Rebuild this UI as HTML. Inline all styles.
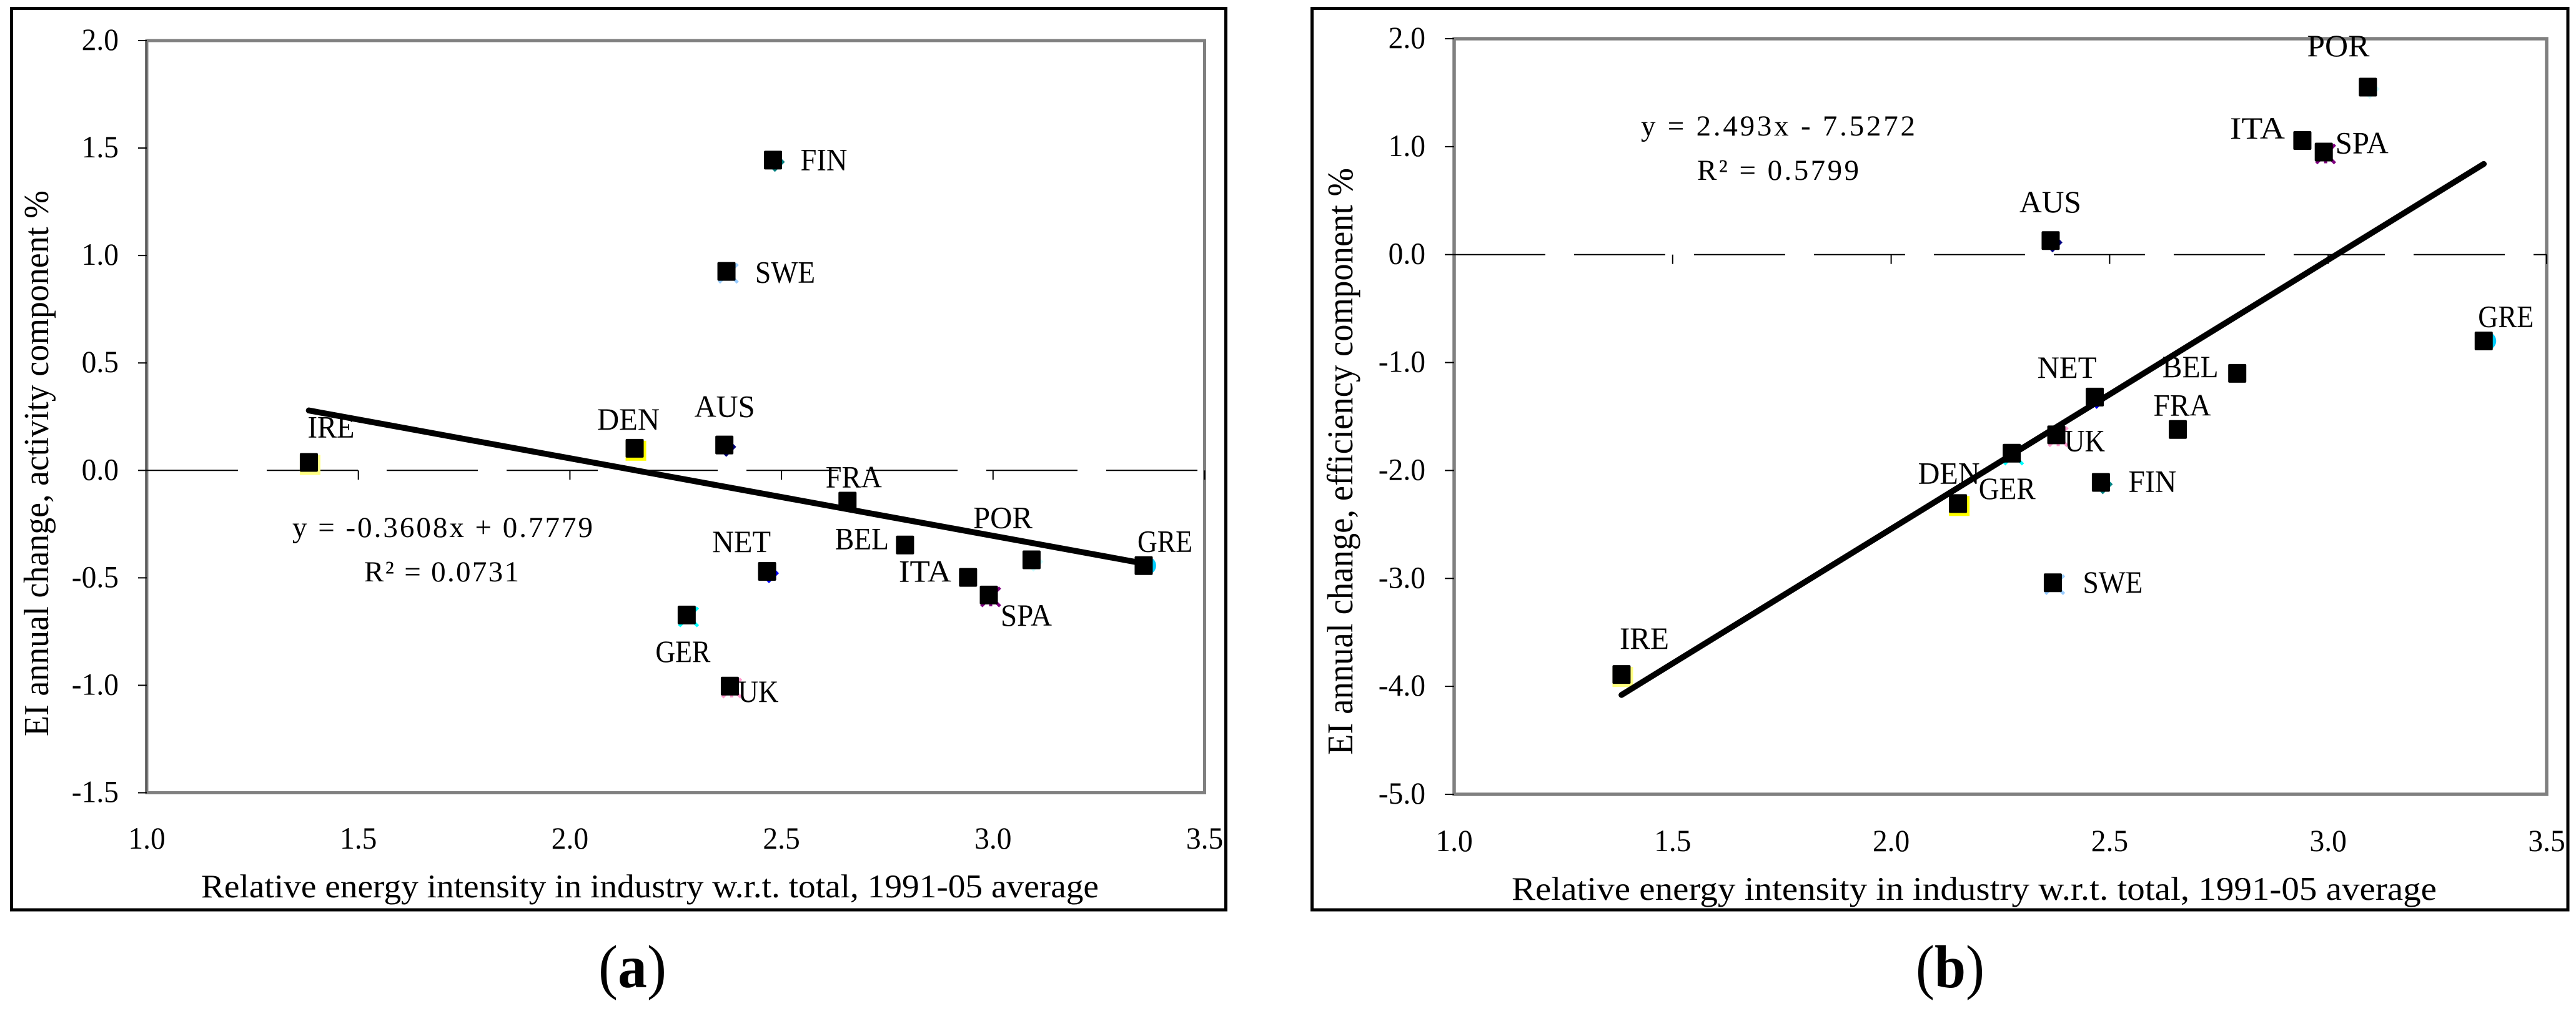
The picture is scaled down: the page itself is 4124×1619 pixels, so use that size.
<!DOCTYPE html>
<html lang="en">
<head>
<meta charset="utf-8">
<title>EI annual change vs relative energy intensity</title>
<style>
html,body{margin:0;padding:0;background:#fff;}
svg{display:block;}
text{font-family:"Liberation Serif",serif;fill:#000;}
</style>
</head>
<body>
<svg id="figure" xmlns="http://www.w3.org/2000/svg" width="4124" height="1619" viewBox="0 0 4124 1619">
  <rect x="0" y="0" width="4124" height="1619" fill="#fff"/>

  <g id="panel-a">
    <rect x="18.5" y="13.5" width="1944" height="1443.5" fill="none" stroke="#000" stroke-width="5"/>
    <rect x="235" y="65" width="1693.5" height="1204.5" fill="#fff" stroke="#808080" stroke-width="5"/>
    <line x1="233.5" y1="65" x2="233.5" y2="1269" stroke="#333" stroke-width="2"/>
    <text transform="translate(77,1179) rotate(-90)" font-size="56" textLength="874" lengthAdjust="spacingAndGlyphs">EI annual change, activity component %</text>
    <text x="322" y="1437" font-size="53" textLength="1437" lengthAdjust="spacingAndGlyphs">Relative energy intensity in industry w.r.t. total, 1991-05 average</text>
    <text x="468" y="860" font-size="47" textLength="481" lengthAdjust="spacing">y = -0.3608x + 0.7779</text>
    <text x="583" y="931" font-size="47" textLength="248" lengthAdjust="spacing">R² = 0.0731</text>
  </g>

  <g id="panel-b">
    <rect x="2100.5" y="13.5" width="2010.5" height="1443.5" fill="none" stroke="#000" stroke-width="5"/>
    <rect x="2328" y="62" width="1749" height="1210" fill="#fff" stroke="#808080" stroke-width="5.5"/>
    <text transform="translate(2165,1209) rotate(-90)" font-size="58" textLength="940" lengthAdjust="spacingAndGlyphs">EI annual change, efficiency component %</text>
    <text x="2420" y="1441" font-size="53" textLength="1481" lengthAdjust="spacingAndGlyphs">Relative energy intensity in industry w.r.t. total, 1991-05 average</text>
    <text x="2627" y="217" font-size="47" textLength="439" lengthAdjust="spacing">y = 2.493x - 7.5272</text>
    <text x="2717" y="288" font-size="47" textLength="259" lengthAdjust="spacing">R² = 0.5799</text>
  </g>

  <text x="958" y="1581" font-size="98" textLength="109" lengthAdjust="spacingAndGlyphs">(<tspan font-weight="bold">a</tspan>)</text>
  <text x="3067" y="1581" font-size="98" textLength="110" lengthAdjust="spacingAndGlyphs">(<tspan font-weight="bold">b</tspan>)</text>
</svg>

<script>
// ---- chart data ----
const countries = ["IRE","DEN","GER","AUS","SWE","UK","NET","FIN","FRA","BEL","ITA","SPA","POR","GRE"];
const relativeIntensity = [1.383,2.153,2.276,2.365,2.37,2.378,2.466,2.48,2.656,2.792,2.941,2.99,3.091,3.356];
const activityChange = [0.037,0.103,-0.673,0.118,0.926,-1.004,-0.47,1.444,-0.143,-0.347,-0.498,-0.58,-0.416,-0.443];
const efficiencyChange = [-3.89,-2.306,-1.84,0.13,-3.04,-1.67,-1.32,-2.11,-1.62,-1.10,1.057,0.95,1.552,-0.80];
const trendCoefficientsA = [-0.3608,0.7779];
const trendCoefficientsB = [2.493,-7.5272];
const xTickLabels = ["1.0","1.5","2.0","2.5","3.0","3.5"];
const yTickLabelsA = ["2.0","1.5","1.0","0.5","0.0","-0.5","-1.0","-1.5"];
const yTickLabelsB = ["2.0","1.0","0.0","-1.0","-2.0","-3.0","-4.0","-5.0"];

// ---- marker styling and label layout (not data) ----
const fringeStyles = {
  IRE:["square","#ffff80"],DEN:["square","#ffff00"],GER:["cross","#00ffff"],AUS:["diamond","#000080"],
  SWE:["cross","#99ccff"],UK:["star","#ff99cc"],NET:["diamond","#0000ff"],FIN:["diamond","#008080"],
  SPA:["star","#800080"],POR:["diamond","#ccffff"],GRE:["bump","#00ccff"]
};
const labelLayoutA = {
  IRE:[-2,-40,75],DEN:[-60,-30,100],GER:[-50,75,88],AUS:[-48,-45,97],SWE:[46,18,96],UK:[13,25,65],NET:[-88,-31,94],
  FIN:[44,16,75],FRA:[-35,-22,90],BEL:[-112,7,86],ITA:[-111,7,84],SPA:[19,49,82],POR:[-93.5,-51,95],GRE:[-10,-22,88]
};
const labelLayoutB = {
  IRE:[-3,-41,79],DEN:[-64,-32,99],GER:[-53,73,91],AUS:[-50,-45,99],SWE:[48,16,96],UK:[13,26,65],NET:[-92,-31,95],
  FIN:[44,15,77],FRA:[-39,-22,92],BEL:[-120,6,90],ITA:[-116,-3,88],SPA:[18.5,2,85],POR:[-97.5,-49.5,100],GRE:[-9,-22.5,89]
};

const SVG_NS = "http://www.w3.org/2000/svg";
function make(tag, attrs, parent){
  const n = document.createElementNS(SVG_NS, tag);
  for (const k in attrs) n.setAttribute(k, attrs[k]);
  parent.appendChild(n);
  return n;
}
function linear(d0, d1, r0, r1){
  return function(v){ return r0 + (v - d0) / (d1 - d0) * (r1 - r0); };
}
function squeezeTickText(t){
  t.setAttribute("lengthAdjust", "spacingAndGlyphs");
  t.setAttribute("textLength", t.getComputedTextLength() * 0.95);
}

function drawFringe(group, kind, color, cx, cy){
  const fx = cx + 3, fy = cy + 3;
  if (kind === "square") {
    make("rect",{x:cx-14.5,y:cy-12,width:33,height:32,fill:color},group);
  } else if (kind === "diamond") {
    make("polygon",{points:[fx,fy-16,fx+16,fy,fx,fy+16,fx-16,fy].join(" "),fill:color},group);
  } else if (kind === "bump") {
    make("circle",{cx:cx+5.5,cy:cy,r:14.5,fill:color},group);
  } else {
    const s = 15;
    make("line",{x1:fx-s,y1:fy-s,x2:fx+s,y2:fy+s,stroke:color,"stroke-width":5},group);
    make("line",{x1:fx-s,y1:fy+s,x2:fx+s,y2:fy-s,stroke:color,"stroke-width":5},group);
    if (kind === "star") {
      make("line",{x1:fx,y1:fy-s,x2:fx,y2:fy+s,stroke:color,"stroke-width":5},group);
    }
  }
}

function drawPanel(cfg){
  const root = document.getElementById(cfg.id);
  const px = linear(1, 3.5, cfg.left, cfg.right);
  const py = linear(cfg.yMax, cfg.yMin, cfg.top, cfg.bottom);
  const zeroY = py(0);

  // y axis ticks and labels
  cfg.yTicks.forEach(function(label){
    const v = parseFloat(label);
    const y = py(v);
    const tick = make("line",{x1:cfg.left-cfg.tickLen,y1:y,x2:cfg.left,y2:y,stroke:"#000","stroke-width":2},root);
    
    
    const t = make("text",{x:cfg.yLabelRight,y:y+15,"font-size":50,"text-anchor":"end"},root);
    
    
    t.textContent = label;
    squeezeTickText(t);
  });

  // dashed zero line, x ticks hang below it
  const zero = make("line",{x1:cfg.left,y1:zeroY,x2:cfg.right,y2:zeroY,stroke:"#000","stroke-width":2,"stroke-dasharray":"146 46"},root);
  
  

  xTickLabels.forEach(function(label){
    const v = parseFloat(label);
    const x = px(v);
    if (v > 1) {
      const tick = make("line",{x1:x,y1:zeroY,x2:x,y2:zeroY+15,stroke:"#000","stroke-width":2},root);
      
      
    }
    const t = make("text",{x:x,y:cfg.xLabelBaseline,"font-size":50,"text-anchor":"middle"},root);
    
    
    t.textContent = label;
    squeezeTickText(t);
  });

  // coloured under-markers
  countries.forEach(function(name, i){
    const style = fringeStyles[name];
    if (!style) return;
    const g = make("g",{},root);
    
    
    drawFringe(g, style[0], style[1], px(relativeIntensity[i]), py(cfg.values[i]));
  });

  // black square points
  countries.forEach(function(name, i){
    const cx = px(relativeIntensity[i]);
    const cy = py(cfg.values[i]);
    const pt = make("rect",{x:cx-14.5,y:cy-15,width:29,height:30,rx:2,fill:"#000"},root);
    
    
  });

  // regression line, spanning the data range
  const xMin = Math.min.apply(null, relativeIntensity);
  const xMax = Math.max.apply(null, relativeIntensity);
  const fit = function(x){ return cfg.trend[0] * x + cfg.trend[1]; };
  const line = make("line",{x1:px(xMin),y1:py(fit(xMin)),x2:px(xMax),y2:py(fit(xMax)),stroke:"#000","stroke-width":9.5,"stroke-linecap":"round"},root);
  
  

  // country labels
  countries.forEach(function(name, i){
    const lay = cfg.labels[name];
    const t = make("text",{x:px(relativeIntensity[i])+lay[0],y:py(cfg.values[i])+lay[1],"font-size":50,textLength:lay[2],lengthAdjust:"spacingAndGlyphs"},root);
    
    
    t.textContent = name;
  });
}

drawPanel({id:"panel-a",left:235,right:1928.5,top:65,bottom:1269.5,yMax:2,yMin:-1.5,tickLen:14,yLabelRight:190,
  xLabelBaseline:1359,values:activityChange,trend:trendCoefficientsA,yTicks:yTickLabelsA,labels:labelLayoutA});
drawPanel({id:"panel-b",left:2328,right:4077,top:62,bottom:1272,yMax:2,yMin:-5,tickLen:15,yLabelRight:2282,
  xLabelBaseline:1363,values:efficiencyChange,trend:trendCoefficientsB,yTicks:yTickLabelsB,labels:labelLayoutB});
</script>
</body>
</html>
